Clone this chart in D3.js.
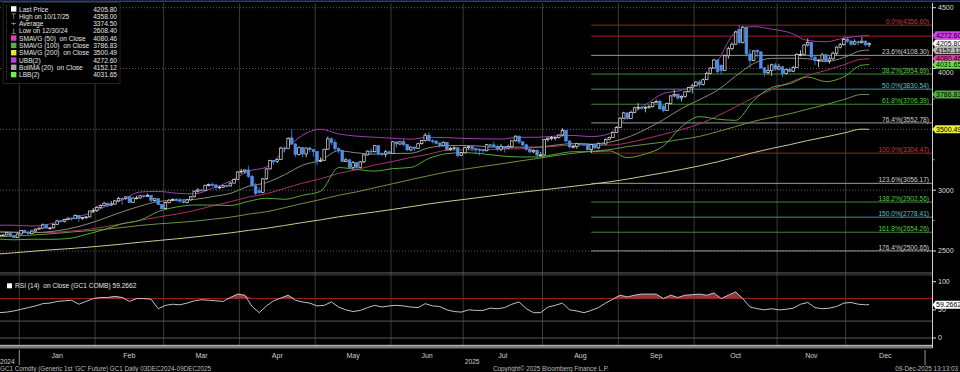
<!DOCTYPE html>
<html lang="en">
<head>
<meta charset="UTF-8">
<title>GC1 Comdty Daily</title>
<script src="https://d3js.org/d3.v7.min.js"></script>
<style>
  html, body { margin: 0; padding: 0; background: #000; }
  svg { display: block; }
  text { font-family: "Liberation Sans", Arial, sans-serif; white-space: pre; }
</style>
</head>
<body>
<svg id="chart" width="960" height="372"></svg>
<script>
// ---- data ---------------------------------------------------------------
// exchange holidays (no bar)
const holidays = ["2024-12-25", "2025-01-01", "2025-01-20", "2025-02-17", "2025-04-18",
  "2025-05-26", "2025-06-19", "2025-07-04", "2025-09-01", "2025-11-27", "2025-12-25"];

// daily OHLC, 23 Dec 2024 .. 09 Dec 2025 (242 sessions)
const opens = [
  2625, 2630, 2632, 2650, 2625, 2612,
  2640, 2668, 2655, 2645, 2664, 2680, 2688, 2715, 2689, 2690, 2717, 2748, 2744, 2759, 2770, 2766, 2791, 2766, 2775, 2780, 2829,
  2835, 2857, 2873, 2893, 2877, 2886, 2912, 2932, 2931, 2945, 2900, 2935, 2936, 2954, 2950, 2956, 2916, 2930, 2882,
  2848, 2898, 2918, 2924, 2919, 2910, 2899, 2920, 2946, 2992, 3001, 2999, 3041, 3046, 3043, 3022, 3025, 3037, 3035, 3058, 3088,
  3150, 3156, 3166, 3114, 3035, 2995, 2981, 3093, 3175, 3244, 3237, 3254, 3346, 3342, 3430, 3380, 3294, 3349, 3298, 3347, 3333,
  3319, 3241, 3244, 3337, 3422, 3393, 3342, 3327, 3237, 3249, 3188, 3226, 3187, 3233, 3290, 3321, 3316, 3366, 3300, 3296, 3315,
  3301, 3397, 3380, 3398, 3375, 3331, 3354, 3344, 3382, 3408, 3452, 3406, 3404, 3386, 3368, 3394, 3333, 3342, 3349, 3286,
  3307, 3349, 3357, 3342, 3336, 3333, 3324, 3374, 3372, 3359, 3338, 3358, 3346, 3359, 3406, 3444, 3397, 3373, 3336, 3315, 3325, 3288,
  3290, 3416, 3427, 3432, 3434, 3453, 3491, 3404, 3356, 3358, 3385, 3382, 3379, 3333, 3375, 3347, 3386, 3380, 3418, 3434, 3473,
  3516, 3592, 3635, 3590, 3640, 3677, 3682, 3674, 3681, 3686, 3720, 3730, 3690, 3655, 3712, 3775, 3788, 3758, 3770, 3809, 3843,
  3858, 3889, 3868, 3908, 3960, 4004, 4070, 4025, 3985, 4105, 4163, 4200, 4320, 4213, 4340, 4120, 4065, 4150, 4137, 4005, 3966, 3983, 4030,
  3996, 4014, 3960, 3995, 3977, 4010, 4115, 4117, 4194, 4213, 4094, 4066, 4070, 4112, 4063, 4080, 4126, 4176, 4196,
  4240, 4225, 4200, 4220, 4212, 4225, 4195
];
const highs = [
  2640, 2637, 2655, 2655, 2630, 2645,
  2672, 2675, 2665, 2675, 2685, 2694, 2726, 2720, 2698, 2725, 2755, 2756, 2765, 2775, 2776, 2800, 2792, 2780, 2786, 2830, 2853,
  2872, 2882, 2905, 2898, 2910, 2920, 2945, 2940, 2950, 2950, 2940, 2955, 2960, 2960, 2974, 2960, 2935, 2933, 2885,
  2905, 2928, 2933, 2935, 2935, 2925, 2925, 2950, 2995, 3017, 3010, 3045, 3055, 3065, 3050, 3035, 3042, 3045, 3068, 3095, 3155,
  3175, 3170, 3202, 3125, 3060, 3022, 3100, 3180, 3250, 3247, 3260, 3357, 3360, 3435, 3500, 3385, 3360, 3355, 3350, 3355, 3340,
  3320, 3270, 3340, 3440, 3435, 3415, 3350, 3330, 3265, 3255, 3240, 3232, 3240, 3295, 3325, 3345, 3370, 3370, 3310, 3330, 3325,
  3405, 3400, 3405, 3420, 3380, 3360, 3360, 3390, 3410, 3470, 3476, 3420, 3410, 3395, 3400, 3395, 3355, 3360, 3350, 3315,
  3360, 3365, 3370, 3345, 3345, 3335, 3380, 3375, 3400, 3375, 3380, 3360, 3375, 3410, 3450, 3450, 3405, 3380, 3345, 3335, 3340, 3315,
  3420, 3435, 3445, 3440, 3460, 3510, 3495, 3410, 3370, 3390, 3390, 3390, 3385, 3380, 3385, 3390, 3395, 3425, 3440, 3480, 3525,
  3600, 3645, 3640, 3655, 3685, 3715, 3695, 3690, 3700, 3725, 3745, 3745, 3700, 3720, 3780, 3825, 3795, 3780, 3815, 3850, 3875,
  3895, 3905, 3915, 3975, 4010, 4080, 4075, 4035, 4115, 4180, 4215, 4310, 4358, 4350, 4345, 4160, 4150, 4160, 4140, 4010, 4030, 4040, 4050,
  4040, 4020, 4000, 4010, 4020, 4125, 4150, 4200, 4250, 4215, 4110, 4080, 4130, 4120, 4100, 4140, 4180, 4210, 4255,
  4260, 4235, 4240, 4230, 4260, 4230, 4215
];
const lows = [
  2615, 2625, 2628, 2620, 2608.4, 2610,
  2636, 2648, 2635, 2640, 2658, 2676, 2683, 2680, 2675, 2686, 2712, 2735, 2735, 2752, 2750, 2762, 2740, 2755, 2765, 2776, 2812,
  2820, 2850, 2868, 2860, 2872, 2880, 2905, 2880, 2920, 2895, 2895, 2925, 2930, 2935, 2945, 2900, 2905, 2875, 2840,
  2845, 2890, 2908, 2905, 2895, 2890, 2890, 2915, 2940, 2980, 2990, 2995, 3030, 3030, 3000, 3010, 3018, 3025, 3030, 3055, 3085,
  3135, 3135, 3100, 3030, 2960, 2970, 2975, 3085, 3170, 3205, 3225, 3250, 3310, 3340, 3370, 3270, 3285, 3270, 3270, 3310, 3275,
  3205, 3230, 3240, 3330, 3370, 3320, 3300, 3230, 3230, 3180, 3170, 3175, 3185, 3220, 3285, 3290, 3310, 3285, 3280, 3270, 3295,
  3300, 3350, 3370, 3360, 3320, 3320, 3320, 3340, 3375, 3400, 3400, 3385, 3375, 3350, 3360, 3325, 3325, 3330, 3270, 3280,
  3300, 3335, 3320, 3300, 3285, 3300, 3320, 3350, 3355, 3320, 3320, 3310, 3340, 3350, 3400, 3380, 3360, 3325, 3300, 3305, 3270, 3280,
  3285, 3400, 3410, 3410, 3425, 3440, 3390, 3345, 3345, 3340, 3370, 3365, 3325, 3304.5, 3340, 3340, 3370, 3375, 3410, 3430, 3470,
  3510, 3585, 3580, 3585, 3635, 3660, 3660, 3640, 3670, 3680, 3715, 3660, 3640, 3650, 3705, 3765, 3740, 3730, 3760, 3805, 3795,
  3850, 3845, 3860, 3905, 3950, 4000, 3960, 3950, 3980, 4080, 4150, 4195, 4200, 4205, 4100, 4005, 4060, 4090, 3995, 3935, 3950, 3940, 3980,
  3985, 3930, 3950, 3970, 3970, 4005, 4100, 4110, 4180, 4070, 4030, 4010, 4060, 4050, 4040, 4070, 4110, 4165, 4190,
  4210, 4185, 4195, 4190, 4205, 4180, 4175
];
const closes = [
  2630, 2632, 2650, 2625, 2610, 2640,
  2668, 2655, 2645, 2664, 2680, 2688, 2715, 2689, 2690, 2717, 2748, 2744, 2759, 2770, 2766, 2791, 2766, 2775, 2780, 2829, 2835,
  2857, 2873, 2893, 2877, 2886, 2912, 2932, 2931, 2945, 2900, 2935, 2936, 2954, 2950, 2956, 2916, 2930, 2882, 2848,
  2898, 2918, 2924, 2919, 2910, 2899, 2920, 2946, 2992, 3001, 2999, 3041, 3046, 3043, 3022, 3025, 3037, 3035, 3058, 3088, 3150,
  3156, 3166, 3114, 3035, 2973, 2981, 3093, 3175, 3244, 3237, 3254, 3346, 3342, 3425, 3380, 3294, 3349, 3298, 3347, 3333, 3319,
  3241, 3244, 3337, 3422, 3393, 3342, 3327, 3237, 3249, 3188, 3226, 3187, 3233, 3290, 3321, 3316, 3366, 3300, 3296, 3315, 3301,
  3397, 3380, 3398, 3375, 3331, 3354, 3344, 3382, 3408, 3452, 3406, 3404, 3386, 3368, 3394, 3333, 3342, 3349, 3286, 3307,
  3349, 3357, 3342, 3336, 3333, 3324, 3374, 3372, 3359, 3338, 3358, 3346, 3359, 3406, 3444, 3397, 3373, 3336, 3315, 3325, 3288, 3290,
  3416, 3427, 3432, 3434, 3453, 3491, 3404, 3356, 3358, 3382, 3382, 3379, 3333, 3375, 3347, 3386, 3380, 3418, 3434, 3473, 3516,
  3592, 3635, 3590, 3640, 3677, 3682, 3674, 3681, 3686, 3720, 3730, 3670, 3655, 3712, 3775, 3788, 3758, 3770, 3809, 3843, 3858,
  3889, 3868, 3908, 3960, 4004, 4070, 3975, 3985, 4105, 4163, 4200, 4300, 4213, 4340, 4120, 4065, 4145, 4137, 4005, 3966, 3983, 4030, 3996,
  4014, 3960, 3992, 3977, 4010, 4115, 4117, 4194, 4213, 4094, 4066, 4070, 4112, 4063, 4080, 4126, 4176, 4196, 4240,
  4225, 4200, 4220, 4212, 4225, 4195, 4205.8
];

// studies, read at sessions 0, 4, 9, 14 ... 239, 241
const bollMA = [2655, 2652, 2651, 2659, 2681, 2718, 2768, 2822, 2869, 2907, 2918, 2924, 2947, 2974, 3032, 3062, 3127,
  3205, 3246, 3324, 3307, 3296, 3302, 3303, 3348, 3366, 3367, 3360, 3351, 3354, 3354, 3370, 3383, 3378, 3394, 3434,
  3499, 3579, 3671, 3744, 3822, 3937, 4041, 4084, 4085, 4080, 4056, 4091, 4148, 4152];
const ubb = [2712, 2712, 2705, 2722, 2760, 2800, 2860, 2920, 2985, 2990, 2975, 2970, 3016, 3074, 3156, 3190, 3329,
  3452, 3501, 3462, 3444, 3435, 3427, 3419, 3435, 3432, 3425, 3422, 3420, 3435, 3435, 3445, 3450, 3440, 3465, 3600,
  3700, 3795, 3821, 3884, 4060, 4300, 4345, 4324, 4295, 4230, 4220, 4250, 4268, 4273];
const lbb = [2598, 2592, 2597, 2596, 2602, 2636, 2676, 2724, 2753, 2824, 2861, 2878, 2878, 2874, 2908, 2934, 2925,
  2958, 2991, 3186, 3170, 3157, 3177, 3187, 3261, 3300, 3309, 3298, 3282, 3273, 3273, 3295, 3316, 3316, 3323, 3268,
  3298, 3363, 3521, 3604, 3584, 3574, 3737, 3844, 3875, 3930, 3892, 3932, 4028, 4032];
const sma50 = [2663, 2657, 2652, 2652, 2662, 2676, 2698, 2724, 2752, 2779, 2803, 2833, 2870, 2905, 2943, 2971, 3014,
  3058, 3094, 3138, 3169, 3207, 3236, 3269, 3296, 3328, 3332, 3331, 3338, 3340, 3351, 3361, 3370, 3370, 3370, 3388,
  3422, 3458, 3498, 3544, 3610, 3685, 3761, 3827, 3886, 3943, 3984, 4031, 4077, 4080];
const sma100 = [2617, 2623, 2631, 2641, 2654, 2665, 2678, 2693, 2710, 2723, 2733, 2745, 2761, 2778, 2803, 2823, 2856,
  2891, 2923, 2958, 2986, 3020, 3053, 3087, 3119, 3150, 3173, 3195, 3216, 3239, 3260, 3284, 3303, 3320, 3333, 3358,
  3377, 3395, 3418, 3442, 3481, 3523, 3566, 3598, 3628, 3666, 3703, 3744, 3787, 3787];
const sma200 = [2476, 2485, 2497, 2509, 2519, 2530, 2543, 2557, 2572, 2586, 2600, 2615, 2632, 2649, 2669, 2687, 2710,
  2734, 2756, 2781, 2801, 2821, 2842, 2864, 2887, 2907, 2925, 2944, 2963, 2981, 2997, 3014, 3032, 3049, 3068, 3091,
  3117, 3143, 3170, 3200, 3233, 3271, 3309, 3343, 3374, 3408, 3438, 3470, 3502, 3500];

// RSI(14), every second session, last value on the final session
const rsi = [45, 46, 48, 51, 54, 57, 61, 62, 65, 66, 67, 60, 65, 70, 72, 72, 74, 72, 65, 70, 70, 69, 52, 58, 60, 59,
  62, 66, 68, 67, 66, 65, 72, 78, 76, 56, 45, 57, 66, 71, 76, 67, 64, 62, 57, 58, 64, 55, 50, 47, 49, 54, 58, 55, 57,
  58, 57, 55, 54, 61, 57, 56, 50, 47, 46, 50, 49, 49, 53, 52, 54, 60, 64, 52, 45, 45, 55, 58, 62, 50, 48, 45, 49, 54,
  62, 69, 76, 73, 76, 78, 78, 78, 70, 76, 72, 76, 77, 78, 76, 80, 70, 76, 82, 70, 55, 52, 50, 52, 50, 51, 53, 60, 63,
  54, 52, 53, 56, 62, 63, 60, 59, 59.27];

// Fibonacci retracement, Aug low to Oct high
const fibPct = ["0.0%", "23.6%", "38.2%", "50.0%", "61.8%", "76.4%", "100.0%", "123.6%", "138.2%", "150.0%", "161.8%", "176.4%"];
const fibVal = [4356.60, 4108.30, 3954.69, 3830.54, 3706.39, 3552.78, 3304.47, 3056.17, 2902.56, 2778.41, 2654.26, 2500.65];
const fibKind = ["r", "w", "g", "c", "g", "w", "r", "w", "g", "c", "g", "w"];
const extraLevel = 4266;

const legendNames = ["Last Price", "High on 10/17/25", "Average", "Low on 12/30/24", "SMAVG (50)  on Close",
  "SMAVG (100)  on Close", "SMAVG (200)  on Close", "UBB(2)", "BollMA (20)  on Close", "LBB(2)"];
const legendVals = ["4205.80", "4358.00", "3374.50", "2608.40", "4080.46", "3786.83", "3500.49", "4272.60", "4152.12", "4031.65"];

const tagVals = [4272.60, 4205.80, 4152.12, 4080.46, 4031.65, 3786.83, 3500.49];
const priceTicks = [2500, 3000, 3500, 4000, 4500];
const rsiTicks = [0, 50, 100];

// ---- setup --------------------------------------------------------------
const svg = d3.select("#chart");
const plotR = 932;
const fmtKey = d3.timeFormat("%Y-%m-%d");

const sessions = d3.timeDay.range(new Date(2024, 11, 23), new Date(2026, 0, 1))
  .filter(d => d.getDay() !== 0 && d.getDay() !== 6 && !holidays.includes(fmtKey(d)));

const x = d3.scaleLinear().domain([0, 241]).range([-0.55, 869.1]);
const y = d3.scaleLinear().domain([2500, 4500]).range([251, 7.7]);
const yR = d3.scaleLinear().domain([0, 100]).range([338, 281.7]);

const sampleIdx = [0, ...d3.range(4, 240, 5), 241];
const rsiIdx = rsi.map((_, i) => Math.min(i * 2, 241));

const col = {
  up: "#e4e4e4", dn: "#4f8fe8",
  ubb: "#9a3fb0", mid: "#8c8c74", lbb: "#4fae34",
  s50: "#a83468", s100: "#6b9440", s200: "#cfc98c"
};
const fibLine = { r: "#9c2424", w: "#9a9a9a", g: "#3f8a35", c: "#3f8f8f" };
const fibText = { r: "#c83a3a", w: "#cfcfcf", g: "#5cc84a", c: "#5cc4c4" };
const tagFill = ["#d040e8", "#ffffff", "#b4b4b4", "#e0409c", "#6ee050", "#4fb03c", "#ecea3a"];

svg.append("rect").attr("width", 960).attr("height", 372).attr("fill", "#000");

svg.append("defs").append("clipPath").attr("id", "clipMain")
  .append("rect").attr("x", 0).attr("y", 3).attr("width", plotR).attr("height", 269);
svg.select("defs").append("clipPath").attr("id", "clipRsi")
  .append("rect").attr("x", 0).attr("y", 276).attr("width", plotR).attr("height", 68);

// month boundaries
const monthStarts = d3.timeMonth.range(new Date(2025, 0, 1), new Date(2026, 1, 1));
const bounds = monthStarts.map(m => x(d3.bisectLeft(sessions, m) - 0.5));

// grid
const grid = svg.append("g");
grid.selectAll("line.v").data(bounds.slice(0, 12)).join("line")
  .attr("x1", d => d).attr("x2", d => d).attr("y1", 3).attr("y2", 345)
  .attr("stroke", "#3a3a3a").attr("stroke-width", 1);
grid.selectAll("line.h").data(priceTicks).join("line")
  .attr("x1", 0).attr("x2", plotR).attr("y1", d => y(d)).attr("y2", d => y(d))
  .attr("stroke", "#7a7a7a").attr("stroke-width", 0.8).attr("stroke-dasharray", "1,2");

// frame lines
svg.append("line").attr("x1", 0).attr("x2", 960).attr("y1", 1.2).attr("y2", 1.2)
  .attr("stroke", "#23408e").attr("stroke-width", 1.6);
svg.append("line").attr("x1", 0).attr("x2", plotR).attr("y1", 273).attr("y2", 273)
  .attr("stroke", "#6a6a6a").attr("stroke-width", 1);
svg.append("line").attr("x1", 0).attr("x2", plotR).attr("y1", 275).attr("y2", 275)
  .attr("stroke", "#444").attr("stroke-width", 1);
svg.append("rect").attr("x", 0).attr("y", 345).attr("width", plotR).attr("height", 3.5).attr("fill", "#7a7a7a");
svg.append("line").attr("x1", 0).attr("x2", plotR).attr("y1", 345.3).attr("y2", 345.3)
  .attr("stroke", "#cfcfcf").attr("stroke-width", 0.8);
svg.append("line").attr("x1", 932.5).attr("x2", 932.5).attr("y1", 3).attr("y2", 348)
  .attr("stroke", "#cfcfcf").attr("stroke-width", 1);

// ---- main panel ---------------------------------------------------------
const main = svg.append("g").attr("clip-path", "url(#clipMain)");

// fibonacci levels
const fibX0 = x(164);
main.append("line").attr("x1", fibX0).attr("x2", plotR).attr("y1", y(extraLevel)).attr("y2", y(extraLevel))
  .attr("stroke", fibLine.r).attr("stroke-width", 1);
main.selectAll("line.fib").data(fibVal).join("line")
  .attr("x1", fibX0).attr("x2", plotR).attr("y1", d => y(d)).attr("y2", d => y(d))
  .attr("stroke", (d, i) => fibLine[fibKind[i]]).attr("stroke-width", 1);
main.selectAll("text.fib").data(fibVal).join("text")
  .attr("x", 929).attr("y", d => y(d) - 1.2).attr("text-anchor", "end")
  .attr("font-size", 6.6).attr("fill", (d, i) => fibText[fibKind[i]])
  .text((d, i) => `${fibPct[i]}(${d.toFixed(2)})`);

// studies
const study = d3.line().x((d, i) => x(sampleIdx[i])).y(d => y(d)).curve(d3.curveMonotoneX);
[[sma200, col.s200], [sma100, col.s100], [sma50, col.s50], [lbb, col.lbb], [bollMA, col.mid], [ubb, col.ubb]]
  .forEach(([vals, c]) => {
    main.append("path").datum(vals).attr("d", study)
      .attr("fill", "none").attr("stroke", c).attr("stroke-width", 1);
  });

// candles
const candles = closes.map((c, i) => ({ i, o: opens[i], h: highs[i], l: lows[i], c }));
const gC = main.append("g");
gC.selectAll("line").data(candles).join("line")
  .attr("x1", d => x(d.i)).attr("x2", d => x(d.i))
  .attr("y1", d => y(d.h)).attr("y2", d => y(d.l))
  .attr("stroke", d => d.c >= d.o ? col.up : col.dn).attr("stroke-width", 0.8);
gC.selectAll("rect").data(candles).join("rect")
  .attr("x", d => x(d.i) - 1.3).attr("width", 2.6)
  .attr("y", d => y(Math.max(d.o, d.c)))
  .attr("height", d => Math.max(0.8, Math.abs(y(d.o) - y(d.c))))
  .attr("fill", d => d.c >= d.o ? "#000" : col.dn)
  .attr("stroke", d => d.c >= d.o ? col.up : col.dn).attr("stroke-width", 0.7);

// price axis (labels that sit under a value tag peek out just below it)
const axR = svg.append("g");
axR.selectAll("line.maj").data(priceTicks).join("line")
  .attr("x1", 932).attr("x2", 936).attr("y1", d => y(d)).attr("y2", d => y(d))
  .attr("stroke", "#ddd");
axR.selectAll("line.min").data(d3.range(2750, 4500, 500)).join("line")
  .attr("x1", 932).attr("x2", 934.5).attr("y1", d => y(d)).attr("y2", d => y(d))
  .attr("stroke", "#aaa");
axR.selectAll("text").data(priceTicks.filter(t => t !== 3500)).join("text")
  .attr("x", 938).attr("y", d => y(d) + (t => t === 4000 ? 6 : 2.4)(d)).attr("font-size", 7).attr("fill", "#ddd")
  .text(d => d);

// value tags
const tags = svg.append("g");
tagVals.forEach((v, i) => {
  const ty = y(v);
  tags.append("path")
    .attr("d", `M932.5,${ty} L935.5,${ty - 4} L962,${ty - 4} L962,${ty + 4} L935.5,${ty + 4} Z`)
    .attr("fill", tagFill[i]);
  tags.append("text").attr("x", 936).attr("y", ty + 2.5).attr("font-size", 7)
    .attr("fill", "#000").text(v.toFixed(2));
});

// ---- legend ------------------------------------------------------------
const leg = svg.append("g");
leg.append("rect").attr("x", 3).attr("y", 2.5).attr("width", 117).attr("height", 81)
  .attr("fill", "#000").attr("stroke", "#2c2c2c").attr("stroke-width", 0.8);
leg.append("line").attr("x1", 6.5).attr("x2", 6.5).attr("y1", 5).attr("y2", 80)
  .attr("stroke", "#555").attr("stroke-width", 0.8).attr("stroke-dasharray", "1,1");
const legSwatch = ["#ffffff", null, null, null, "#e040b4", "#58b048", "#e4e43c", "#c040e0", "#a8a8a8", "#70f050"];
legendNames.forEach((n, i) => {
  const ly = 11.5 + 7.3 * i;
  if (legSwatch[i]) {
    leg.append("rect").attr("x", 11).attr("y", ly - 5.3).attr("width", 5.4).attr("height", 5.4)
      .attr("fill", legSwatch[i]);
  } else {
    const gx = 13.7, g = leg.append("g").attr("stroke", "#9a9a9a").attr("stroke-width", 0.8);
    if (i === 1) {
      g.append("line").attr("x1", gx).attr("x2", gx).attr("y1", ly - 5).attr("y2", ly);
      g.append("line").attr("x1", gx - 2).attr("x2", gx + 2).attr("y1", ly - 5).attr("y2", ly - 5);
    } else if (i === 2) {
      g.append("line").attr("x1", gx - 2.5).attr("x2", gx + 2.5).attr("y1", ly - 2.5).attr("y2", ly - 2.5);
      g.append("line").attr("x1", gx).attr("x2", gx).attr("y1", ly - 4).attr("y2", ly - 1);
    } else {
      g.append("line").attr("x1", gx).attr("x2", gx).attr("y1", ly - 5).attr("y2", ly);
      g.append("line").attr("x1", gx - 2).attr("x2", gx + 2).attr("y1", ly).attr("y2", ly);
    }
  }
  leg.append("text").attr("x", 19).attr("y", ly).attr("font-size", 6.6).attr("fill", "#e6e6e6").text(n);
  leg.append("text").attr("x", 117).attr("y", ly).attr("font-size", 6.6).attr("fill", "#e6e6e6")
    .attr("text-anchor", "end").text(legendVals[i]);
});

// ---- RSI panel ----------------------------------------------------------
const rp = svg.append("g");
rp.append("line").attr("x1", 0).attr("x2", plotR).attr("y1", yR(70)).attr("y2", yR(70))
  .attr("stroke", "#a02222").attr("stroke-width", 1);
[30, 0].forEach(v => rp.append("line").attr("x1", 0).attr("x2", plotR).attr("y1", yR(v)).attr("y2", yR(v))
  .attr("stroke", "#5a5a5a").attr("stroke-width", 1));

const rg = rp.append("g").attr("clip-path", "url(#clipRsi)");
rg.append("path").datum(rsi)
  .attr("d", d3.area().x((d, i) => x(rsiIdx[i])).y0(yR(70)).y1(d => yR(Math.max(d, 70))))
  .attr("fill", "#8c3838");
rg.append("path").datum(rsi)
  .attr("d", d3.line().x((d, i) => x(rsiIdx[i])).y(d => yR(d)))
  .attr("fill", "none").attr("stroke", "#d6d6d6").attr("stroke-width", 0.9);

rp.selectAll("line.t").data(rsiTicks).join("line")
  .attr("x1", 932).attr("x2", 936).attr("y1", d => yR(d)).attr("y2", d => yR(d)).attr("stroke", "#ddd");
rp.selectAll("text.t").data(rsiTicks).join("text")
  .attr("x", 938).attr("y", d => yR(d) + 2.4).attr("font-size", 7).attr("fill", "#ddd").text(d => d);

const lastRsi = rsi[rsi.length - 1];
rp.append("path")
  .attr("d", `M932.5,${yR(lastRsi)} L935.5,${yR(lastRsi) - 4} L962,${yR(lastRsi) - 4} L962,${yR(lastRsi) + 4} L935.5,${yR(lastRsi) + 4} Z`)
  .attr("fill", "#fff");
rp.append("text").attr("x", 936).attr("y", yR(lastRsi) + 2.5).attr("font-size", 7).attr("fill", "#000")
  .text("59.2662");

rp.append("rect").attr("x", 7).attr("y", 283.3).attr("width", 5).attr("height", 5).attr("fill", "#fff");
rp.append("text").attr("x", 15).attr("y", 288.4).attr("font-size", 6.6).attr("fill", "#e6e6e6")
  .text("RSI (14)  on Close (GC1 COMB) 59.2662");

// ---- time axis ----------------------------------------------------------
const ax = svg.append("g");
const fmtMon = d3.timeFormat("%b");
ax.selectAll("text.m").data(monthStarts.slice(0, 12)).join("text")
  .attr("x", (d, i) => (bounds[i] + bounds[i + 1]) / 2).attr("y", 357.5)
  .attr("text-anchor", "middle").attr("font-size", 7).attr("fill", "#cfcfcf")
  .text(d => fmtMon(d));
[bounds[0], bounds[12]].forEach(bx => ax.append("line")
  .attr("x1", bx).attr("x2", bx).attr("y1", 350).attr("y2", 365).attr("stroke", "#bbb").attr("stroke-width", 0.8));
ax.append("text").attr("x", 0).attr("y", 363.5).attr("font-size", 6.6).attr("fill", "#cfcfcf").text("2024");
ax.append("text").attr("x", (bounds[0] + bounds[12]) / 2).attr("y", 363.5).attr("text-anchor", "middle")
  .attr("font-size", 6.6).attr("fill", "#cfcfcf").text("2025");

// footer
ax.append("text").attr("x", 0).attr("y", 371).attr("font-size", 6.3).attr("fill", "#bdbdbd")
  .text("GC1 Comdty (Generic 1st 'GC' Future) GC1 Daily 03DEC2024-09DEC2025");
ax.append("text").attr("x", 493).attr("y", 371).attr("font-size", 6.3).attr("fill", "#bdbdbd")
  .text("Copyright© 2025 Bloomberg Finance L.P.");
ax.append("text").attr("x", 958).attr("y", 371).attr("text-anchor", "end").attr("font-size", 6.3).attr("fill", "#bdbdbd")
  .text("09-Dec-2025 13:13:03");
</script>
</body>
</html>
